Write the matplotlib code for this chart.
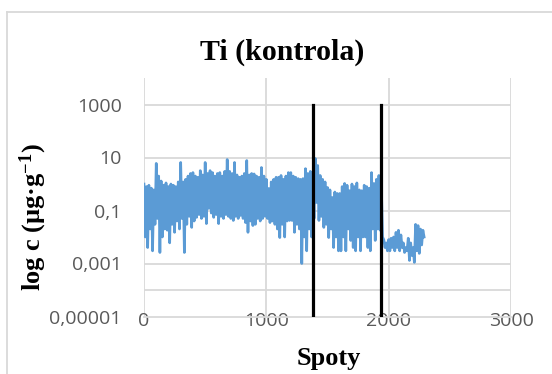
import matplotlib
matplotlib.use("Agg")
import matplotlib.pyplot as plt
import numpy as np
from matplotlib.lines import Line2D

# Ti concentration per spot (µg/g), one reading every 10 spots
spot_step = 10
ti_values = [
    1.0, 0.01, 0.8, 0.004, 0.9, 0.02, 0.7, 0.003, 0.6, 0.03,
    6.0, 0.05, 2.0, 0.0026, 1.3, 0.01, 0.9, 0.02, 1.1, 0.018,
    0.8, 0.006, 1.0, 0.03, 0.9, 0.015, 0.8, 0.04, 1.2, 0.02,
    6.5, 0.05, 1.2, 0.0026, 1.5, 0.03, 2.0, 0.06, 2.5, 0.023,
    2.7, 0.04, 2.0, 0.055, 1.8, 0.07, 3.2, 0.05, 2.2, 0.06,
    6.5, 0.032, 2.5, 0.12, 3.2, 0.08, 2.7, 0.055, 2.0, 0.07,
    2.5, 0.032, 2.7, 0.06, 2.0, 0.05, 3.0, 0.07, 8.4, 0.06,
    3.0, 0.05, 2.5, 0.042, 6.5, 0.06, 2.2, 0.05, 1.8, 0.065,
    2.0, 0.05, 2.5, 0.035, 7.7, 0.015, 2.2, 0.04, 2.5, 0.027,
    2.4, 0.03, 2.0, 0.05, 1.8, 0.04, 4.2, 0.05, 2.0, 0.06,
    1.5, 0.05, 0.68, 0.035, 1.2, 0.04, 1.5, 0.03, 1.8, 0.02,
    1.8, 0.0095, 2.1, 0.03, 1.5, 0.01, 2.0, 0.04, 2.7, 0.042,
    2.7, 0.042, 2.0, 0.015, 1.8, 0.03, 1.6, 0.02, 1.5, 0.001,
    1.6, 0.01, 3.8, 0.003, 2.5, 0.02, 3.0, 0.01, 2.0, 0.05,
    9.2, 0.2, 5.0, 0.042, 2.1, 0.06, 1.5, 0.023, 1.2, 0.03,
    0.74, 0.0095, 0.6, 0.02, 0.31, 0.004, 0.5, 0.01, 0.44, 0.003,
    0.44, 0.003, 0.8, 0.01, 1.05, 0.003, 0.9, 0.02, 0.56, 0.0074,
    1.0, 0.004, 0.8, 0.003, 1.1, 0.01, 0.6, 0.003, 0.56, 0.01,
    0.9, 0.01, 0.8, 0.004, 0.7, 0.003, 2.7, 0.02, 1.05, 0.0074,
    1.5, 0.02, 2.1, 0.018, 1.0, 0.01, 0.008, 0.004, 0.006, 0.003,
    0.008, 0.003, 0.009, 0.004, 0.01, 0.003, 0.015, 0.004, 0.018, 0.003,
    0.012, 0.004, 0.006, 0.0026, 0.004, 0.003, 0.009, 0.0013, 0.006, 0.002,
    0.004, 0.0011, 0.03, 0.003, 0.027, 0.0024, 0.02, 0.005, 0.018, 0.01,
]
spots = np.arange(len(ti_values)) * spot_step

# section boundaries drawn as vertical black bars
boundary_spots = [1380, 1940]
boundary_low, boundary_high = 1e-5, 1000

x_ticks = [0, 1000, 2000, 3000]
y_ticks = [1e-5, 1e-3, 1e-1, 10, 1000]
y_tick_labels = ["0,00001", "0,001", "0,1", "10", "1000"]
y_grid = [1e-4, 1e-3, 1e-1, 10, 1000]

plt.rcParams['mathtext.fontset'] = 'custom'
plt.rcParams['mathtext.rm'] = 'Liberation Serif:bold'
plt.rcParams['mathtext.it'] = 'Liberation Serif:bold'
plt.rcParams['mathtext.bf'] = 'Liberation Serif:bold'

W, H = 552, 374
fig = plt.figure(figsize=(W / 100, H / 100), dpi=100)
ax = fig.add_axes([144 / W, 1 - 316.5 / H, (511 - 144) / W, (316.5 - 78) / H])

grid_c = '#D9D9D9'
ax.set_yscale('log')
ax.set_xlim(0, 3000)
ax.set_ylim(1e-5, 1e4)

for yv in y_grid:
    ax.axhline(yv, color=grid_c, lw=1.3, zorder=0)
for xv in x_ticks:
    ax.axvline(xv, color=grid_c, lw=1.3, zorder=0)

for s in ['top', 'right', 'left']:
    ax.spines[s].set_visible(False)
ax.spines['bottom'].set_color(grid_c)
ax.spines['bottom'].set_linewidth(1.3)

ax.plot(spots, ti_values, color='#5B9BD5', lw=1.9, zorder=2)
for b in boundary_spots:
    ax.plot([b, b], [boundary_low, boundary_high], color='black', lw=2.3, zorder=3)

tick_font = dict(family='Open Sans', size=14, color='#595959')
ax.set_xticks(x_ticks)
ax.set_xticklabels([str(t) for t in x_ticks], **tick_font)
ax.set_yticks(y_ticks)
ax.set_yticklabels(y_tick_labels, **tick_font)
ax.yaxis.set_minor_locator(matplotlib.ticker.NullLocator())
ax.tick_params(axis='x', length=0, pad=-3)
ax.tick_params(axis='y', length=0, pad=16)

fig.text(282 / W, 1 - 52 / H, 'Ti (kontrola)', family='Liberation Serif',
         fontweight='bold', fontsize=21.5, ha='center', va='center')
fig.text(329 / W, 1 - 358 / H, 'Spoty', family='Liberation Serif',
         fontweight='bold', fontsize=19, ha='center', va='center')
fig.text(33 / W, 1 - 217 / H, r'log c (µg·g$^{-1}$)', family='Liberation Serif',
         fontweight='bold', fontsize=19, ha='center', va='center', rotation=90)

# light frame around the chart area
fig.add_artist(Line2D([6.5 / W, 6.5 / W], [0, 1 - 12 / H], color=grid_c, lw=1.3))
fig.add_artist(Line2D([6.5 / W, 1], [1 - 12 / H, 1 - 12 / H], color=grid_c, lw=1.3))

fig.savefig('out.png', dpi=100)
